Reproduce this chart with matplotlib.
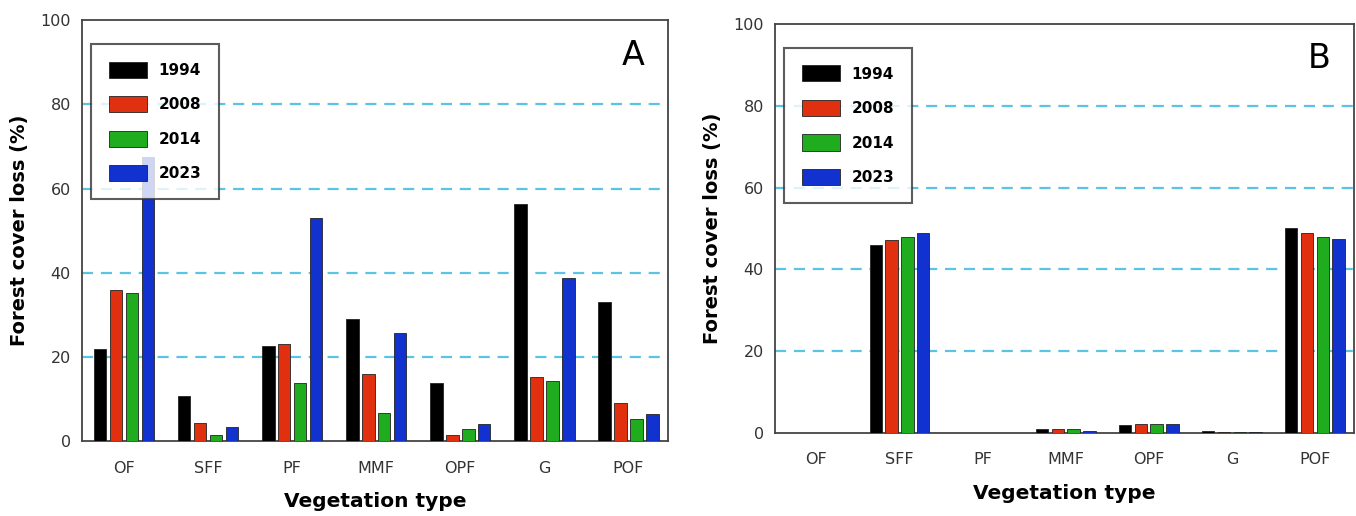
import numpy as np
import matplotlib
matplotlib.use("Agg")
import matplotlib.pyplot as plt

categories = ["OF", "SFF", "PF", "MMF", "OPF", "G", "POF"]
years = ["1994", "2008", "2014", "2023"]

# panel A
loss_a_1994 = [22.0, 10.8, 22.6, 29.0, 13.7, 56.3, 33.0]
loss_a_2008 = [36.0, 4.3, 23.0, 16.0, 1.5, 15.3, 9.0]
loss_a_2014 = [35.2, 1.5, 13.7, 6.8, 3.0, 14.2, 5.3]
loss_a_2023 = [67.5, 3.3, 53.0, 25.8, 4.0, 38.7, 6.5]

# panel B
loss_b_1994 = [0.1, 46.0, 0.1, 1.0, 2.0, 0.4, 50.2]
loss_b_2008 = [0.1, 47.2, 0.1, 1.0, 2.2, 0.2, 49.0]
loss_b_2014 = [0.1, 48.0, 0.1, 1.0, 2.2, 0.2, 48.0]
loss_b_2023 = [0.1, 49.0, 0.1, 0.5, 2.2, 0.2, 47.4]

colors = ["#000000", "#e0300f", "#1fad1f", "#1232d0"]

fig = plt.figure(figsize=(13.56, 5.16), dpi=100)
ax_a = fig.add_axes([0.0605, 0.145, 0.432, 0.816])
ax_b = fig.add_axes([0.5715, 0.161, 0.427, 0.792])


def draw_panel(ax, series, letter):
    x = np.arange(len(categories))
    slot = 0.19
    for i, vals in enumerate(series):
        ax.bar(x + (i - 1.5) * slot, vals, width=0.15, color=colors[i],
               edgecolor="#222222", linewidth=0.6, label=years[i], zorder=3)
    ax.set_xlim(-0.5, 6.47)
    ax.set_ylim(0, 100)
    ax.set_yticks([0, 20, 40, 60, 80, 100])
    ax.set_xticks(x)
    ax.set_xticklabels(categories)
    ax.tick_params(axis="both", length=0, labelsize=11.5, colors="#333333")
    ax.tick_params(axis="x", pad=14)
    ax.tick_params(axis="y", pad=8)
    for yv in [20, 40, 60, 80]:
        ax.axhline(yv, color="#5bc3e3", linestyle=(0, (5, 3.5)),
                   linewidth=1.6, zorder=1)
    for s in ax.spines.values():
        s.set_color("#444444")
        s.set_linewidth(1.3)
    ax.set_ylabel("Forest cover loss (%)", fontsize=14, fontweight="bold",
                  labelpad=8)
    ax.set_xlabel("Vegetation type", fontsize=14.5, fontweight="bold",
                  labelpad=12)
    ax.text(0.96, 0.915, letter, transform=ax.transAxes, fontsize=24,
            ha="right", va="center")
    leg = ax.legend(loc="upper left", bbox_to_anchor=(0.0, 0.965),
                    frameon=True, fancybox=False, handlelength=2.5,
                    handleheight=1.25, labelspacing=1.2, borderpad=1.15,
                    handletextpad=0.75, borderaxespad=0.6,
                    prop={"weight": "bold", "size": 11})
    leg.get_frame().set_edgecolor("#333333")
    leg.get_frame().set_linewidth(1.5)
    leg.set_zorder(5)


draw_panel(ax_a, [loss_a_1994, loss_a_2008, loss_a_2014, loss_a_2023], "A")
draw_panel(ax_b, [loss_b_1994, loss_b_2008, loss_b_2014, loss_b_2023], "B")

fig.savefig("out.png", dpi=100, facecolor="white")
